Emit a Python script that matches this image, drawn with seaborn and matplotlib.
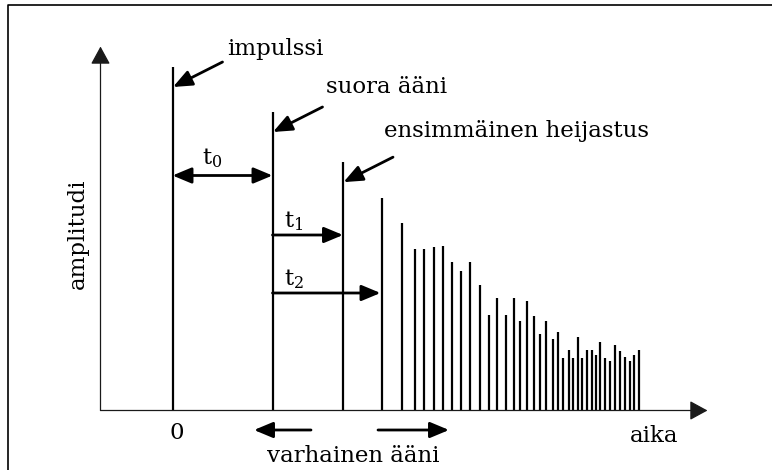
import matplotlib
matplotlib.use("Agg")
import matplotlib.pyplot as plt
from matplotlib.lines import Line2D
import numpy as np
import pandas as pd
import seaborn as sns

# ---- data: room impulse response (time in ms, amplitude relative to impulse) ----
impulse_time, impulse_amp = 0.0, 1.0
direct_time, direct_amp = 10.0, 0.869
first_refl_time, first_refl_amp = 17.05, 0.723

late_times = [20.9, 22.9, 24.2, 25.1, 26.1, 27.0, 27.9, 28.8, 29.7, 30.75,
              31.6, 32.4, 33.3, 34.1, 34.7, 35.45, 36.1, 36.7, 37.3, 38.05,
              38.55, 39.0, 39.6, 40.05, 40.5, 40.95, 41.45, 41.9, 42.3, 42.7,
              43.2, 43.7, 44.2, 44.75, 45.2, 45.75, 46.15, 46.6]
late_amps = [0.619, 0.546, 0.470, 0.470, 0.476, 0.479, 0.432, 0.406, 0.432, 0.365,
             0.278, 0.328, 0.278, 0.328, 0.261, 0.319, 0.275, 0.223, 0.261, 0.208,
             0.229, 0.153, 0.176, 0.153, 0.214, 0.153, 0.176, 0.176, 0.162, 0.199,
             0.153, 0.144, 0.191, 0.173, 0.156, 0.144, 0.162, 0.176]

label_impulse = "impulssi"
label_direct = "suora ääni"
label_first = "ensimmäinen heijastus"
label_t0, label_t1, label_t2 = r"$\mathregular{t_0}$", r"$\mathregular{t_1}$", r"$\mathregular{t_2}$"
label_zero = "0"
label_x = "aika"
label_y = "amplitudi"
label_early = "varhainen ääni"

response = pd.DataFrame({
    "time": [impulse_time, direct_time, first_refl_time] + late_times,
    "amp": [impulse_amp, direct_amp, first_refl_amp] + late_amps,
})

# ---- style ----
sns.set_theme(style="white")
plt.rcParams["font.family"] = ["DejaVu Serif"]
plt.rcParams["mathtext.fontset"] = "dejavuserif"
plt.rcParams["text.color"] = "black"
FS = 16.5

W, H = 772, 470
fig = plt.figure(figsize=(W / 100, H / 100), dpi=100)
ax = fig.add_axes([0, 0, 1, 1])
ax.set_axis_off()

# layout: pixel position of the origin and pixel scale of each unit
X0, SX = 172.5, 10.0     # px of t = 0, px per ms
Y0, SY = 410.5, 343.5    # px of amplitude 0, px per unit amplitude
ax.set_xlim((0 - X0) / SX, (W - X0) / SX)
ax.set_ylim((Y0 - H) / SY, Y0 / SY)


def px(x, y):
    """Pixel position (from top-left) to data coordinates."""
    return (x - X0) / SX, (Y0 - y) / SY


# ---- axes drawn as arrows ----
axis_x = px(100.5, 0)[0]
ax_kw = dict(arrowstyle="-|>,head_length=1.1,head_width=0.6", mutation_scale=10,
             lw=0.9, color="#1a1a1a", shrinkA=0, shrinkB=0)
ax.annotate("", xy=(axis_x, px(0, 46.5)[1]), xytext=(axis_x, 0), arrowprops=ax_kw)
ax.annotate("", xy=(px(707.5, 0)[0], 0), xytext=(axis_x, 0), arrowprops=ax_kw)

# ---- impulse, direct sound, reflections ----
ax.vlines(response["time"], 0, response["amp"], colors="black", lw=1.6)

# ---- labelled arrows pointing at the first three lines ----
lab_kw = dict(arrowstyle="-|>,head_length=1.15,head_width=0.48", mutation_scale=10,
              lw=2.0, color="black", shrinkA=0, shrinkB=0)
drop = 20 / SY
for t, a, text, tx, ty in [
    (impulse_time, impulse_amp, label_impulse, 227, 55),
    (direct_time, direct_amp, label_direct, 326, 93),
    (first_refl_time, first_refl_amp, label_first, 384, 137),
]:
    tip = (t + 0.05, a - drop)
    tail = (t + 5.0, a - drop + 25 / SY)
    ax.annotate("", xy=tip, xytext=tail, arrowprops=lab_kw)
    ax.text(*px(tx, ty), text, fontsize=FS, ha="left", va="baseline")

# ---- time intervals ----
ty0 = px(0, 175.5)[1]
ax.annotate("", xy=(direct_time, ty0), xytext=(impulse_time, ty0),
            arrowprops=dict(lab_kw, arrowstyle="<|-|>,head_length=1.15,head_width=0.48"))
ax.text(*px(202, 164), label_t0, fontsize=FS, ha="left", va="baseline")

ty1 = px(0, 235)[1]
ax.annotate("", xy=(first_refl_time, ty1), xytext=(direct_time, ty1), arrowprops=lab_kw)
ax.text(*px(284, 227), label_t1, fontsize=FS, ha="left", va="baseline")

ty2 = px(0, 293)[1]
ax.annotate("", xy=(late_times[0] - 0.1, ty2), xytext=(direct_time, ty2), arrowprops=lab_kw)
ax.text(*px(284, 285), label_t2, fontsize=FS, ha="left", va="baseline")

# ---- axis texts ----
ax.text(impulse_time + 0.45, px(0, 439)[1], label_zero, fontsize=FS, ha="center", va="baseline")
ax.text(*px(630, 442), label_x, fontsize=FS, ha="left", va="baseline")
ax.text(*px(78, 233.5), label_y, fontsize=FS, ha="center", va="center", rotation=90)

# early sound span
ax.annotate("", xy=px(254, 430), xytext=px(311, 430), arrowprops=lab_kw)
ax.annotate("", xy=px(449, 430), xytext=px(378, 430), arrowprops=lab_kw)
ax.text(*px(353.5, 462), label_early, fontsize=FS, ha="center", va="baseline")

# ---- frame around the figure ----
fig.add_artist(Line2D([7.5 / W, 7.5 / W, 1.2], [-0.2, 1 - 4.5 / H, 1 - 4.5 / H],
                      transform=fig.transFigure, color="black", lw=1.2))

fig.savefig("out.png", dpi=100)
